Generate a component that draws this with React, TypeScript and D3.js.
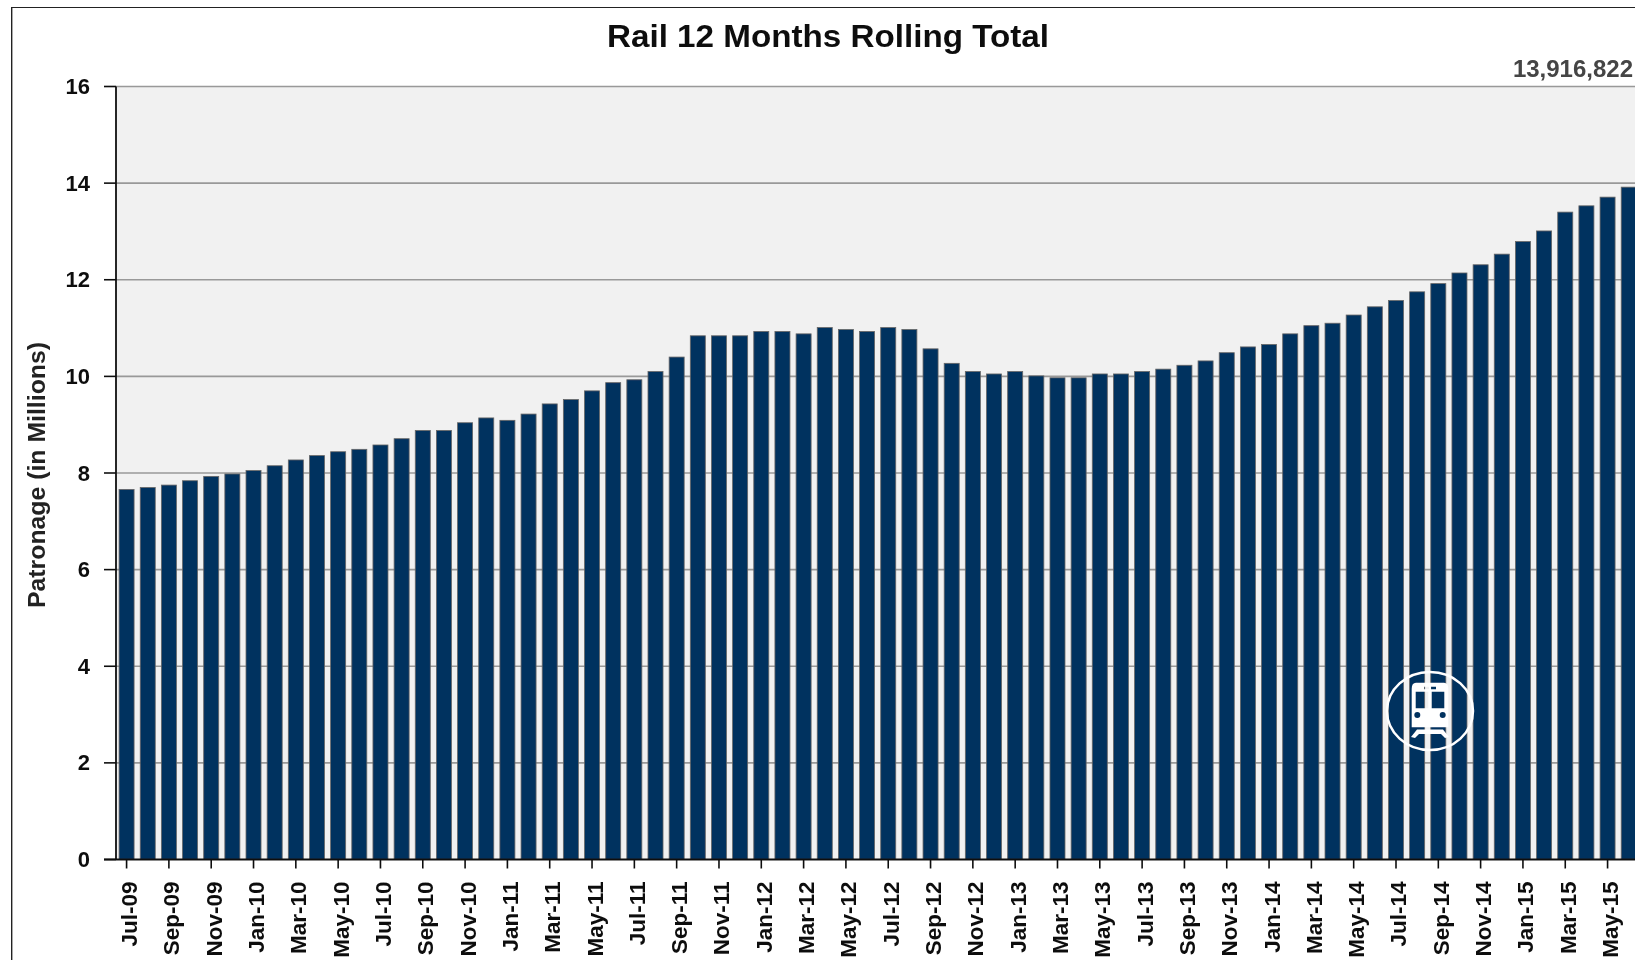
import React from "react";
import * as d3 from "d3";

const months = ["Jul","Aug","Sep","Oct","Nov","Dec","Jan","Feb","Mar","Apr","May","Jun"];
const startYear = 9;
const values = [
  7.66,7.70,7.75,7.84,7.93,7.98,8.05,8.15,8.27,8.36,8.44,8.49,
  8.58,8.71,8.88,8.88,9.04,9.14,9.09,9.22,9.43,9.52,9.70,9.87,
  9.93,10.10,10.40,10.84,10.84,10.84,10.93,10.93,10.88,11.01,10.97,10.93,
  11.01,10.97,10.57,10.27,10.10,10.05,10.10,10.01,9.97,9.97,10.05,10.05,
  10.10,10.15,10.23,10.32,10.49,10.61,10.66,10.88,11.05,11.10,11.27,11.44,
  11.57,11.75,11.92,12.14,12.31,12.53,12.79,13.01,13.40,13.53,13.71,13.917,
];
const yTicks = [0,2,4,6,8,10,12,14,16];
const title = "Rail 12 Months Rolling Total";
const yTitle = "Patronage (in Millions)";
const lastLabel = "13,916,822";

const labels = values.map((_, i) => {
  const y = startYear + Math.floor((i + 6) / 12);
  return `${months[i % 12]}-${String(y).padStart(2, "0")}`;
});

const x = d3.scaleBand<string>().domain(labels).range([116, 116 + 72 * 21.157]).paddingInner(0.29).paddingOuter(0.145);
const y = d3.scaleLinear().domain([0, 16]).range([859.5, 86.5]);
const font = "'Liberation Sans', Arial, sans-serif";
const bar = "#03315f";

export default function App() {
  return (
    <svg width={1635} height={960} style={{ position: "absolute", left: 0, top: 0, display: "block", background: "#fff" }}>
      <defs>
        <filter id="soft" x="0" y="0" width="100%" height="100%"><feGaussianBlur stdDeviation="0.7" /></filter>
      </defs>
      <g filter="url(#soft)">
        <path d="M11.5,960 V7 H1635" fill="none" stroke="#222" strokeWidth={1.8} />
        <rect x={116} y={y(16)} width={1519} height={y(0) - y(16)} fill="#f1f1f1" />
        {yTicks.map((t) => (
          <g key={t}>
            <line x1={104} x2={116} y1={y(t)} y2={y(t)} stroke="#111" strokeWidth={1.6} />
            {t > 0 && <line x1={116} x2={1635} y1={y(t)} y2={y(t)} stroke="#999" strokeWidth={1.6} />}
            <text x={90} y={y(t)} textAnchor="end" dominantBaseline="central" fontFamily={font} fontWeight={700} fontSize={22} fill="#111">{t}</text>
          </g>
        ))}
        {values.map((v, i) => (
          <rect key={labels[i]} x={x(labels[i])} y={y(v)} width={x.bandwidth()} height={y(0) - y(v)} fill={bar} stroke="#666" strokeWidth={0.8} />
        ))}
        <line x1={116} x2={116} y1={y(16)} y2={y(0)} stroke="#111" strokeWidth={1.8} />
        <line x1={104} x2={1635} y1={y(0)} y2={y(0)} stroke="#111" strokeWidth={1.8} />
        {labels.map((l, i) => {
          const cx = x(l)! + x.bandwidth() / 2;
          return i % 2 === 0 ? (
            <g key={l}>
              <line x1={cx} x2={cx} y1={y(0)} y2={y(0) + 9} stroke="#111" strokeWidth={1.6} />
              <text transform={`translate(${cx + 3},${y(0) + 22}) rotate(-90)`} textAnchor="end" dominantBaseline="central" fontFamily={font} fontWeight={700} fontSize={22.5} fill="#111">{l}</text>
            </g>
          ) : null;
        })}
        <text x={828} y={36} textAnchor="middle" dominantBaseline="central" fontFamily={font} fontWeight={700} fontSize={31} textLength={442} lengthAdjust="spacingAndGlyphs" fill="#111">{title}</text>
        <text transform={`translate(36,${y(8) + 2}) rotate(-90)`} textAnchor="middle" dominantBaseline="central" fontFamily={font} fontWeight={700} fontSize={24} textLength={266} lengthAdjust="spacingAndGlyphs" fill="#222">{yTitle}</text>
        <text x={1633} y={68.5} textAnchor="end" dominantBaseline="central" fontFamily={font} fontWeight={700} fontSize={24} fill="#444">{lastLabel}</text>
        <g transform="translate(1430,711)" fill="#fff" stroke="none">
          <ellipse rx={43} ry={39} fill="none" stroke="#fff" strokeWidth={2.5} />
          <path fillRule="evenodd" d="M-14,-28.3 H14 Q18.3,-28.3 18.3,-22 V16.3 H-18.3 V-22 Q-18.3,-28.3 -14,-28.3 Z M-14.3,-19.3 V-2.7 H-1.7 V-19.3 Z M1.7,-19.3 V-2.7 H14.3 V-19.3 Z M-6,-24.3 V-21.7 H-1 V-24.3 Z M1,-24.3 V-21.7 H6 V-24.3 Z" />
          <circle cx={-12.7} cy={4} r={3} fill={bar} />
          <circle cx={12.7} cy={4} r={3} fill={bar} />
          <path d="M-13,18.5 H13 L19,26 L15,27 L11,23 H-11 L-15,27 L-19,26 Z" />
        </g>
      </g>
    </svg>
  );
}
